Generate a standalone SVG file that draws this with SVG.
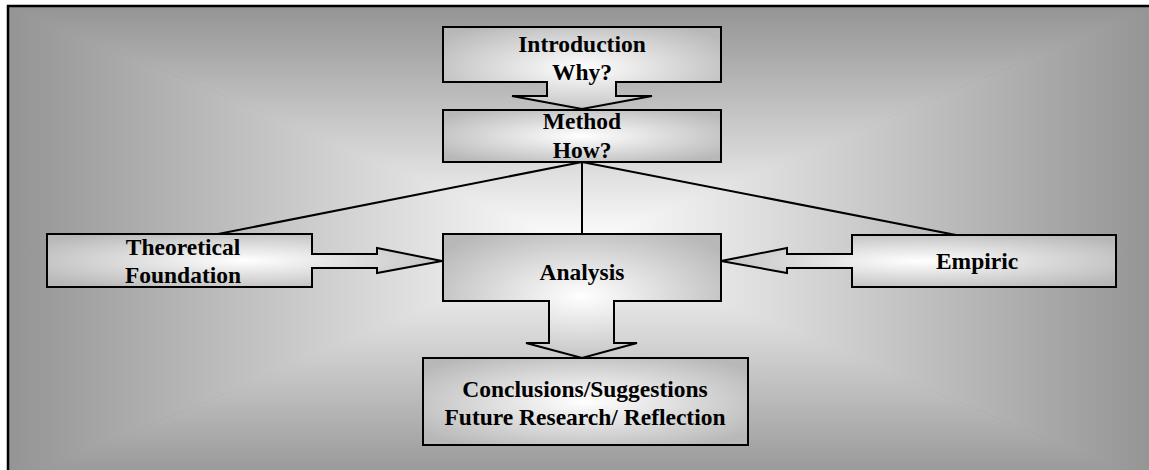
<svg xmlns="http://www.w3.org/2000/svg" width="1149" height="470" viewBox="0 0 1149 470">
<style>
.shape{stroke:#000;stroke-width:2;stroke-linejoin:miter;fill:url(#boxGrad)}
.lbl{font-family:"Liberation Serif","Times New Roman",serif;font-weight:bold;font-size:23.5px;fill:#000;text-anchor:middle}
.conn{stroke:#000;stroke-width:2;fill:none}
</style>
<defs>
<radialGradient id="boxGrad" cx="0.5" cy="0.5" r="0.62">
<stop offset="0" stop-color="#ffffff"/>
<stop offset="1" stop-color="#b8b8b8"/>
</radialGradient>
<radialGradient id="bgBase" gradientUnits="userSpaceOnUse" cx="582" cy="245" r="580" gradientTransform="translate(0 245) scale(1 0.42) translate(0 -245)">
<stop offset="0" stop-color="#ffffff"/>
<stop offset="1" stop-color="#949494"/>
</radialGradient>
<linearGradient id="bgTop" gradientUnits="userSpaceOnUse" x1="0" y1="245" x2="0" y2="6">
<stop offset="0" stop-color="#ffffff"/>
<stop offset="1" stop-color="#949494"/>
</linearGradient>
<linearGradient id="bgBottom" gradientUnits="userSpaceOnUse" x1="0" y1="245" x2="0" y2="484">
<stop offset="0" stop-color="#ffffff"/>
<stop offset="1" stop-color="#949494"/>
</linearGradient>
<linearGradient id="bgLeft" gradientUnits="userSpaceOnUse" x1="582" y1="0" x2="8" y2="0">
<stop offset="0" stop-color="#ffffff"/>
<stop offset="1" stop-color="#949494"/>
</linearGradient>
<linearGradient id="bgRight" gradientUnits="userSpaceOnUse" x1="582" y1="0" x2="1156" y2="0">
<stop offset="0" stop-color="#ffffff"/>
<stop offset="1" stop-color="#949494"/>
</linearGradient>
</defs>

<g id="background">
<rect x="8" y="6" width="1148" height="478" fill="url(#bgBase)"/>
<polygon points="8,6 1156,6 582,245" fill="url(#bgTop)"/>
<polygon points="8,484 1156,484 582,245" fill="url(#bgBottom)"/>
<polygon points="8,6 8,484 582,245" fill="url(#bgLeft)"/>
<polygon points="1156,6 1156,484 582,245" fill="url(#bgRight)"/>
<path d="M8,490 V6 H1160" fill="none" stroke="#000" stroke-width="2.5"/>
</g>

<g id="connectors">
<line class="conn" x1="582" y1="162" x2="213" y2="235"/>
<line class="conn" x1="582" y1="162" x2="582" y2="235"/>
<line class="conn" x1="582" y1="162" x2="956" y2="235"/>
</g>

<g id="introduction">
<path class="shape" d="M443,27 H721 V82 H616 V96 H652 L582,109 L512,96 H547 V82 H443 Z"/>
<text class="lbl" x="582" y="52">Introduction</text>
<text class="lbl" x="582" y="80">Why?</text>
</g>

<g id="method">
<rect class="shape" x="443" y="110" width="278" height="52"/>
<text class="lbl" x="582" y="129">Method</text>
<text class="lbl" x="582" y="158">How?</text>
</g>

<g id="theoretical">
<path class="shape" d="M47,234 H312 V254 H377 V248 L442,261 L377,273 V268 H312 V287 H47 Z"/>
<text class="lbl" x="183" y="255">Theoretical</text>
<text class="lbl" x="183" y="283">Foundation</text>
</g>

<g id="analysis">
<path class="shape" d="M443,234 H721 V301 H614 V343 H637 L582,358 L526,343 H549 V301 H443 Z"/>
<text class="lbl" x="582" y="280">Analysis</text>
</g>

<g id="empiric">
<path class="shape" d="M1116,235 H852 V254 H787 V248 L721,261 L787,273 V268 H852 V287 H1116 Z"/>
<text class="lbl" x="977" y="269">Empiric</text>
</g>

<g id="conclusions">
<rect class="shape" x="423" y="358" width="325" height="87"/>
<text class="lbl" x="585" y="397">Conclusions/Suggestions</text>
<text class="lbl" x="585" y="425">Future Research/ Reflection</text>
</g>
</svg>
